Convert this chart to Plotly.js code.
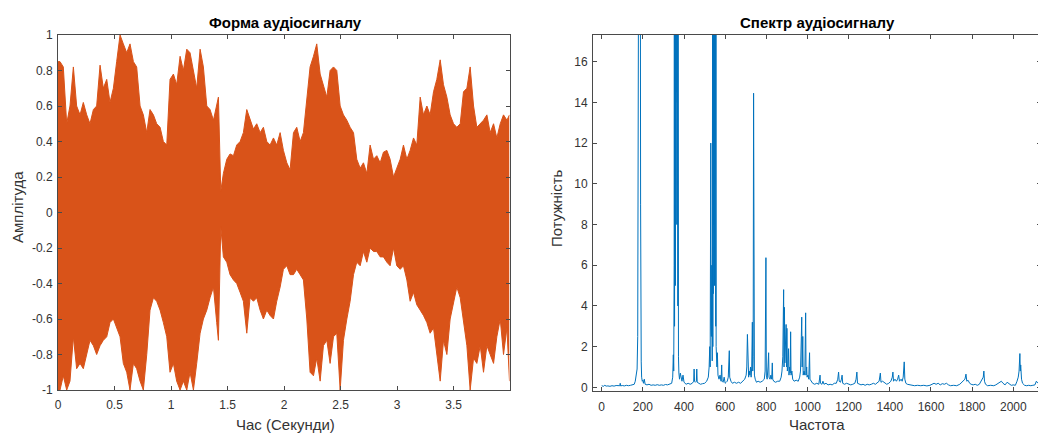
<!DOCTYPE html>
<html><head><meta charset="utf-8">
<script src="https://cdn.plot.ly/plotly-3.0.1.min.js"></script>
<style>html,body{margin:0;padding:0;overflow:hidden;background:#fff}#chart{width:1042px;height:434px}</style>
</head><body><div id="chart"></div>
<script>
// Waveform envelope (time in seconds, upper and lower amplitude)
const waveTime = [0,0.018,0.047,0.077,0.106,0.136,0.165,0.195,0.224,0.254,0.283,0.313,0.342,0.372,0.401,0.431,0.460,0.490,0.519,0.549,0.578,0.608,0.637,0.667,0.696,0.726,0.755,0.785,0.814,0.844,0.873,0.903,0.932,0.962,0.991,1.021,1.050,1.080,1.109,1.139,1.168,1.198,1.227,1.257,1.286,1.316,1.345,1.375,1.404,1.419,1.440,1.463,1.493,1.522,1.552,1.581,1.611,1.640,1.670,1.699,1.729,1.758,1.788,1.817,1.847,1.876,1.906,1.935,1.965,1.994,2.024,2.053,2.083,2.112,2.142,2.171,2.201,2.230,2.260,2.289,2.319,2.348,2.378,2.407,2.437,2.466,2.496,2.525,2.555,2.584,2.614,2.643,2.673,2.702,2.732,2.761,2.791,2.820,2.850,2.879,2.909,2.938,2.968,2.997,3.027,3.056,3.086,3.115,3.145,3.174,3.204,3.233,3.263,3.292,3.322,3.351,3.381,3.410,3.440,3.469,3.499,3.528,3.558,3.587,3.617,3.646,3.676,3.705,3.735,3.764,3.794,3.823,3.853,3.882,3.912,3.941,3.971,3.994];
const waveUpper = [0.85,0.85,0.82,0.5,0.6,0.82,0.6,0.55,0.62,0.55,0.5,0.58,0.6,0.83,0.7,0.75,0.62,0.7,0.85,1.0,0.95,0.9,0.95,0.85,0.82,0.6,0.55,0.45,0.58,0.55,0.5,0.48,0.4,0.38,0.75,0.78,0.72,0.88,0.8,0.92,0.9,0.8,0.7,0.92,0.82,0.6,0.58,0.52,0.6,0.65,0.12,0.22,0.3,0.33,0.32,0.38,0.4,0.45,0.58,0.52,0.47,0.5,0.45,0.48,0.4,0.38,0.42,0.38,0.45,0.35,0.28,0.24,0.45,0.48,0.4,0.45,0.62,0.82,0.88,0.95,0.78,0.72,0.65,0.8,0.82,0.8,0.6,0.55,0.52,0.48,0.45,0.3,0.25,0.28,0.22,0.38,0.3,0.32,0.28,0.34,0.35,0.3,0.2,0.25,0.3,0.38,0.3,0.35,0.42,0.38,0.65,0.55,0.6,0.55,0.68,0.75,0.86,0.72,0.65,0.55,0.5,0.48,0.5,0.68,0.7,0.82,0.6,0.48,0.5,0.52,0.55,0.45,0.5,0.42,0.5,0.55,0.52,0.55];
const waveLower = [-1,-1,-0.92,-1,-0.95,-0.7,-0.88,-0.85,-0.88,-0.8,-0.72,-0.75,-0.8,-0.75,-0.72,-0.7,-0.62,-0.6,-0.65,-0.7,-0.85,-0.9,-1,-0.85,-0.88,-0.95,-1,-0.8,-0.55,-0.48,-0.5,-0.55,-0.62,-0.7,-0.9,-0.85,-0.95,-1,-0.95,-1,-0.9,-1,-0.85,-0.68,-0.6,-0.55,-0.48,-0.42,-0.62,-0.72,-0.08,-0.25,-0.28,-0.35,-0.38,-0.4,-0.45,-0.5,-0.68,-0.48,-0.5,-0.48,-0.55,-0.6,-0.55,-0.58,-0.6,-0.5,-0.42,-0.32,-0.3,-0.35,-0.35,-0.32,-0.35,-0.38,-0.6,-0.9,-0.92,-0.82,-0.95,-0.75,-0.72,-0.85,-0.7,-0.68,-1,-0.72,-0.6,-0.5,-0.35,-0.28,-0.3,-0.22,-0.28,-0.2,-0.22,-0.22,-0.25,-0.25,-0.28,-0.3,-0.2,-0.3,-0.32,-0.3,-0.38,-0.5,-0.45,-0.52,-0.55,-0.58,-0.62,-0.68,-0.65,-0.8,-0.95,-0.72,-0.8,-0.6,-0.5,-0.42,-0.48,-0.6,-0.75,-1,-0.82,-0.85,-0.75,-0.9,-0.75,-0.8,-0.85,-0.7,-0.6,-0.8,-0.65,-0.95];

// Spectrum (frequency, power)
const specFreq = [0,8,15,22,30,40,50,60,70,80,88,90,92,100,110,120,130,140,150,158,163,168,172,175,176,177,179,181,183,185,187,189,190,192,194,197,200,203,207,211,220,230,240,250,260,270,280,290,300,310,320,330,340,345,348,350,352,353,354,355,356,357,358,359,360,361,362,363,364,365,366,367,368,369,370,371,372,373,375,378,382,385,390,395,400,410,420,430,440,447,449,451,455,460,462,464,470,480,490,500,510,518,522,525,527,529,530,531,533,535,537,539,540,541,542,543,544,545,546,547,548,549,550,551,552,553,554,555,556,558,560,562,565,570,575,580,583,585,590,595,600,605,610,615,618,620,622,628,635,645,655,665,675,685,695,702,705,708,710,712,714,717,720,723,726,729,732,734,736,738,740,742,746,752,760,770,780,790,794,796,797,798,800,804,808,811,813,818,822,826,829,831,836,845,855,865,872,876,880,884,886,888,890,893,896,898,900,902,905,908,910,913,916,918,920,924,928,935,945,955,962,966,970,972,974,977,979,983,987,991,993,996,998,1002,1006,1010,1012,1018,1025,1035,1045,1055,1059,1061,1063,1070,1075,1080,1090,1100,1110,1120,1130,1140,1147,1151,1154,1160,1165,1168,1171,1180,1190,1200,1210,1220,1230,1236,1240,1243,1250,1260,1270,1280,1290,1300,1310,1320,1330,1340,1348,1354,1357,1365,1375,1385,1395,1405,1412,1415,1418,1425,1432,1438,1443,1447,1455,1460,1465,1470,1473,1478,1485,1495,1505,1520,1535,1550,1565,1580,1595,1605,1615,1625,1635,1645,1655,1665,1675,1685,1695,1710,1725,1740,1750,1758,1765,1770,1774,1780,1788,1795,1805,1815,1825,1835,1845,1850,1854,1857,1860,1865,1875,1890,1905,1915,1925,1935,1942,1950,1960,1970,1980,1990,2000,2010,2018,2024,2028,2032,2034,2036,2040,2045,2055,2065,2075,2085,2095,2105,2112,2120,2130];
const specPower = [0.08,0.05,0.1,0.06,0.07,0.05,0.08,0.06,0.09,0.07,0.08,0.2,0.07,0.09,0.07,0.1,0.08,0.1,0.12,0.15,0.3,0.6,0.9,2.5,12,3,8,30,40,60,30,9,1.5,1.25,0.5,0.3,0.35,0.2,0.4,0.15,0.12,0.15,0.1,0.12,0.1,0.13,0.1,0.12,0.1,0.14,0.12,0.15,0.2,0.5,1.6,0.8,6,25,3,40,10,30,5,45,14,35,8,50,13.7,40,14.5,30,8,25,4,20,2,1.5,0.7,0.4,0.7,0.5,0.3,0.6,0.25,0.15,0.2,0.15,0.2,0.3,0.9,0.3,0.25,0.3,0.9,0.25,0.2,0.15,0.18,0.2,0.3,0.5,1.0,2.0,1.0,4.5,12,3,2.5,6,1.3,20,2,35,4.6,40,8,50,12,30,5,40,10,25,4,30,3,18,2,1.7,1.0,1.7,0.6,0.4,0.6,0.3,1.1,0.3,0.25,0.5,0.2,0.25,0.3,0.5,1.0,1.8,0.5,0.3,0.2,0.25,0.2,0.25,0.2,0.3,0.4,0.6,1.0,2.6,1.0,2.0,0.5,0.8,0.6,1.0,0.5,1.0,3.2,0.8,1.5,14.45,1.3,0.6,0.4,0.25,0.3,0.25,0.3,0.4,0.8,4.05,1.0,6.37,0.6,0.4,1.0,1.7,0.5,0.4,0.6,0.4,1.2,0.4,0.3,0.25,0.3,0.3,0.5,0.8,1.5,4.8,1.0,3.93,1.2,2.0,3.09,1.0,2.9,0.8,1.0,1.9,0.6,1.0,0.7,2.73,0.6,0.8,0.4,0.3,0.35,0.3,0.5,0.8,2.5,3.45,1.0,2.5,0.6,0.8,0.6,3.66,0.6,1.0,0.5,0.6,0.4,1.7,0.4,0.3,0.2,0.15,0.2,0.15,0.4,0.6,0.2,0.15,0.3,0.15,0.2,0.12,0.15,0.12,0.2,0.2,0.4,0.75,0.3,0.25,0.4,0.6,0.2,0.15,0.2,0.15,0.12,0.15,0.2,0.4,0.75,0.2,0.15,0.12,0.15,0.1,0.15,0.12,0.15,0.2,0.15,0.25,0.3,0.7,0.25,0.3,0.2,0.15,0.2,0.3,0.5,0.75,0.3,0.4,0.3,0.4,0.6,0.3,0.4,0.3,0.5,1.25,0.4,0.2,0.15,0.12,0.1,0.08,0.1,0.08,0.1,0.07,0.1,0.15,0.2,0.15,0.2,0.12,0.18,0.15,0.2,0.12,0.08,0.1,0.08,0.15,0.25,0.3,0.4,0.65,0.3,0.35,0.2,0.15,0.12,0.15,0.1,0.15,0.3,0.4,0.5,0.8,0.3,0.15,0.08,0.1,0.08,0.12,0.2,0.25,0.3,0.2,0.12,0.25,0.15,0.1,0.12,0.1,0.3,0.5,0.8,1.66,0.8,1.1,0.4,0.2,0.1,0.08,0.1,0.08,0.1,0.12,0.3,0.2,0.15];

// Tick labels
const leftXTicks = [0,0.5,1,1.5,2,2.5,3,3.5];
const leftXText = ['0','0.5','1','1.5','2','2.5','3','3.5'];
const leftYTicks = [-1,-0.8,-0.6,-0.4,-0.2,0,0.2,0.4,0.6,0.8,1];
const leftYText = ['-1','-0.8','-0.6','-0.4','-0.2','0','0.2','0.4','0.6','0.8','1'];
const rightXTicks = [0,200,400,600,800,1000,1200,1400,1600,1800,2000];
const rightYTicks = [0,2,4,6,8,10,12,14,16];

const titles = {left:'Форма аудіосигналу', right:'Спектр аудіосигналу', leftX:'Час (Секунди)', leftY:'Амплітуда', rightX:'Частота', rightY:'Потужність'};

const W = 1042, H = 434;
const px = x => x / W, py = y => 1 - y / H;
const FONT = 'Liberation Sans, Arial, Helvetica, sans-serif';
const ORANGE = '#D95319', BLUE = '#0072BD', AX = '#4a4a4a';

const axisBase = {
  showline:true, linecolor:AX, linewidth:1, mirror:'allticks', ticks:'inside', ticklen:4, tickcolor:AX, tickwidth:1,
  showgrid:false, zeroline:false, tickfont:{family:FONT, size:12, color:'#333'}, fixedrange:true
};

const traces = [
  {x:waveTime, y:waveLower, type:'scatter', mode:'lines', line:{color:ORANGE, width:1}, xaxis:'x', yaxis:'y', hoverinfo:'skip'},
  {x:waveTime, y:waveUpper, type:'scatter', mode:'lines', fill:'tonexty', fillcolor:ORANGE, line:{color:ORANGE, width:1}, xaxis:'x', yaxis:'y', hoverinfo:'skip'},
  {x:specFreq, y:specPower, type:'scatter', mode:'lines', line:{color:BLUE, width:1}, xaxis:'x2', yaxis:'y2', hoverinfo:'skip'}
];

function ann(text, x, y, opts) {
  return Object.assign({text:text, x:px(x), y:py(y), xref:'paper', yref:'paper', xanchor:'center', yanchor:'middle', showarrow:false,
    borderpad:0, font:{size:15, color:'#333', family:FONT}}, opts || {});
}

const layout = {
  width:W, height:H, margin:{l:0,r:0,t:0,b:0}, paper_bgcolor:'#fff', plot_bgcolor:'#fff', showlegend:false,
  font:{family:FONT, color:'#262626'},
  xaxis:Object.assign({}, axisBase, {domain:[px(58), px(509.5)], range:[0,3.994], tickvals:leftXTicks, ticktext:leftXText, anchor:'y', ticklabelstandoff:4}),
  yaxis:Object.assign({}, axisBase, {domain:[py(390), py(35)], range:[-1,1], tickvals:leftYTicks, ticktext:leftYText, anchor:'x', ticklabelstandoff:2}),
  xaxis2:Object.assign({}, axisBase, {domain:[px(593), px(1041)], range:[-42.3,2134.6], tickvals:rightXTicks, anchor:'y2', ticklabelstandoff:5}),
  yaxis2:Object.assign({}, axisBase, {domain:[py(391), py(35)], range:[-0.18,17.31], tickvals:rightYTicks, anchor:'x2', ticklabelstandoff:2}),
  annotations:[
    ann('<b>'+titles.left+'</b>', 285, 22, {font:{size:15, color:'#000', family:FONT}}),
    ann('<b>'+titles.right+'</b>', 817, 22, {font:{size:15, color:'#000', family:FONT}}),
    ann(titles.leftX, 285, 424),
    ann(titles.rightX, 817, 424),
    ann(titles.leftY, 17, 207, {textangle:-90}),
    ann(titles.rightY, 557, 208, {textangle:-90})
  ],
  hovermode:false
};

Plotly.newPlot('chart', traces, layout, {staticPlot:true, displayModeBar:false});
</script></body></html>
